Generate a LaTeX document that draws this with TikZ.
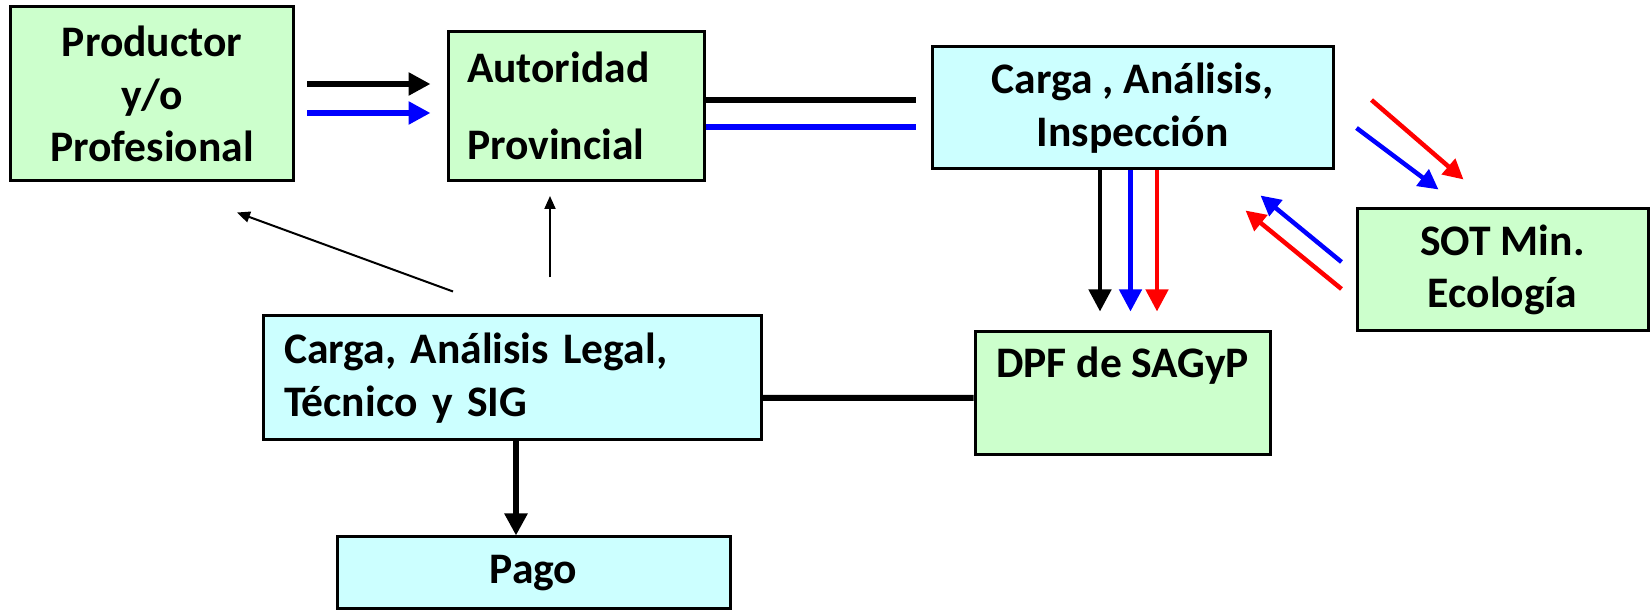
\documentclass[tikz,border=0pt]{standalone}
\usepackage{fontspec}
\setmainfont{Carlito}
\definecolor{green1}{RGB}{204, 255, 204}
\definecolor{cyan1}{RGB}{204, 255, 255}
\definecolor{blue1}{RGB}{0, 0, 255}
\definecolor{red1}{RGB}{255, 0, 0}
\usetikzlibrary{arrows.meta, positioning, calc}

\begin{document}
\begin{tikzpicture}[x=0.1mm, y=-0.1mm,
  box/.style={draw=black, line width=0.3mm, inner sep=0pt, font=\bfseries\fontsize{12.4}{15}\selectfont},
  greenbox/.style={box, fill=green1},
  cyanbox/.style={box, fill=cyan1},
  flow/.style={line width=0.6mm, -{Triangle[length=2.2mm, width=2.2mm]}},
  bar/.style={line width=0.6mm},
  drop/.style={line width=0.45mm, -{Triangle[length=2.2mm, width=2.2mm]}},
  slant/.style={line width=0.45mm, -{Triangle[length=2mm, width=2mm]}},
  pointer/.style={line width=0.2mm, -{Triangle[length=1.3mm, width=1.1mm]}}]

  \useasboundingbox (0,0) rectangle (1652,612);

  % boxes
  \node[greenbox, minimum width=28.3mm, minimum height=17.4mm, align=center] (prod) at (152,94) {Productor\\y/o\\Profesional};
  \node[greenbox, minimum width=25.6mm, minimum height=14.9mm, text width=21.8mm, align=left] (aut) at (576,106) {Autoridad\\[2.5mm]Provincial};
  \node[cyanbox, minimum width=40.1mm, minimum height=12.2mm, align=center] (insp) at (1132.5,108) {Carga , Análisis,\\Inspección};
  \node[greenbox, minimum width=29.1mm, minimum height=12.2mm, align=center] (sot) at (1502.5,270) {SOT Min.\\Ecología};
  \node[cyanbox, minimum width=49.8mm, minimum height=12.4mm, text width=45.6mm, align=left] (legal) at (512,378) {Carga, Análisis Legal,\\Técnico y SIG};
  \node[greenbox, minimum width=29.5mm, text height=4.6mm, text depth=7.7mm] (dpf) at (1122.5,393.5) {DPF de SAGyP};
  \node[cyanbox, minimum width=39.3mm, minimum height=7.2mm] (pago) at (533.5,573) {Pago};

  % productor -> autoridad
  \draw[flow] ($(prod.east)+(12,-10)$) -- ($(aut.west)+(-16,-22)$);
  \draw[flow, blue1] ($(prod.east)+(12,19)$) -- ($(aut.west)+(-16,7)$);

  % autoridad -- carga/inspeccion
  \draw[bar] ($(aut.east)+(0,-6)$) -- ($(insp.west)+(-15,-8)$);
  \draw[bar, blue1] ($(aut.east)+(0,21.5)$) -- ($(insp.west)+(-15,19.5)$);

  % carga/inspeccion -> DPF
  \draw[drop] ($(insp.south)+(-32.5,0)$) -- ($(dpf.north)+(-22.5,-19)$);
  \draw[drop, blue1] ($(insp.south)+(-2,0)$) -- ($(dpf.north)+(8,-19)$);
  \draw[drop, red1] ($(insp.south)+(24.5,0)$) -- ($(dpf.north)+(34.5,-19)$);

  % carga/inspeccion <-> SOT
  \draw[slant, red1] ($(insp.east)+(37,-8)$) -- ($(sot.north west)+(108,-28)$);
  \draw[slant, blue1] ($(insp.east)+(22,20)$) -- ($(sot.north west)+(83,-18)$);
  \draw[slant, blue1] ($(sot.west)+(-14,-8)$) -- ($(insp.south east)+(-74,25)$);
  \draw[slant, red1] ($(sot.west)+(-14,19)$) -- ($(insp.south east)+(-89,40)$);

  % carga legal
  \draw[pointer] ($(legal.north)+(-59,-23)$) -- ($(prod.south)+(85,30)$);
  \draw[pointer] ($(legal.north)+(38,-37)$) -- ($(aut.south)+(-26,14)$);
  \draw[bar] ($(legal.east)+(0,20)$) -- ($(dpf.west)+(0,4.5)$);
  \draw[flow] ($(legal.south)+(4,0)$) -- ($(pago.north)+(-17.5,0)$);
\end{tikzpicture}
\end{document}
